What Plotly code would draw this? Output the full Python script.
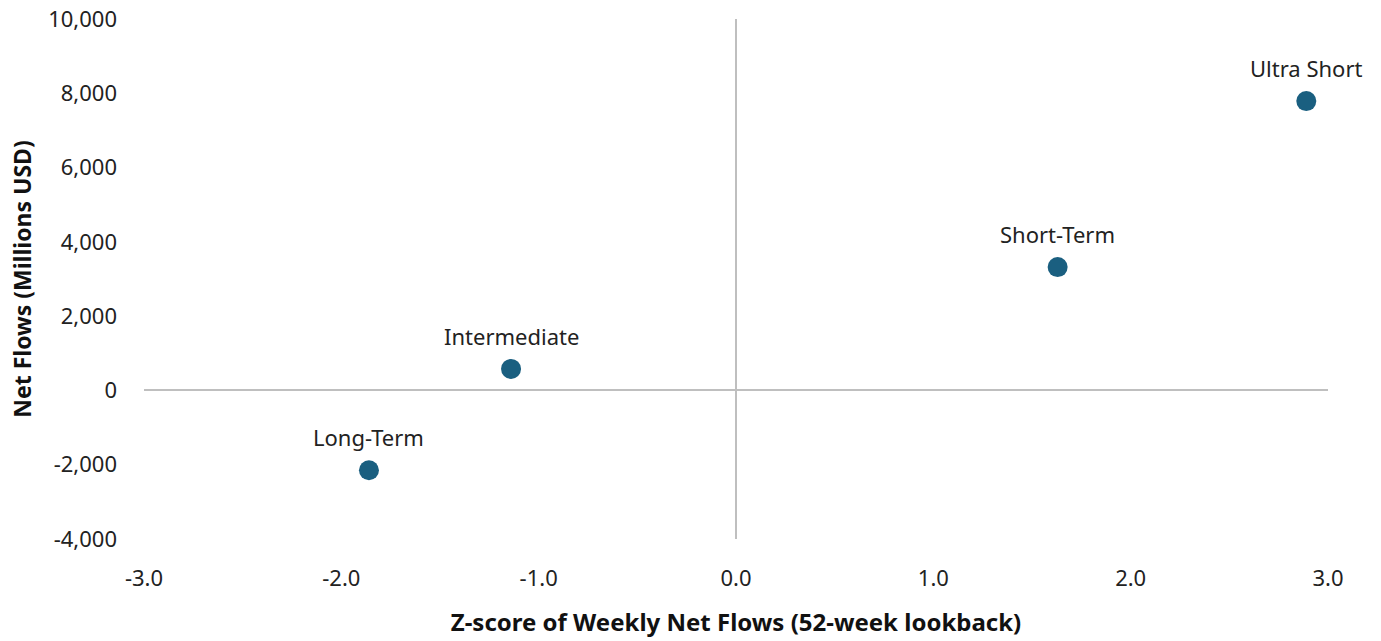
import plotly.graph_objects as go

categories = ["Long-Term", "Intermediate", "Short-Term", "Ultra Short"]
z_scores = [-1.86, -1.14, 1.63, 2.89]
net_flows = [-2150, 580, 3320, 7790]

x_ticks = [-3, -2, -1, 0, 1, 2, 3]
x_tick_labels = ["-3.0", "-2.0", "-1.0", "0.0", "1.0", "2.0", "3.0"]
y_ticks = [-4000, -2000, 0, 2000, 4000, 6000, 8000, 10000]
y_tick_labels = ["-4,000", "-2,000", "0", "2,000", "4,000", "6,000", "8,000", "10,000"]

FONT = "Noto Sans"
fig = go.Figure()
fig.add_trace(go.Scatter(
    x=z_scores, y=net_flows, mode="markers",
    marker=dict(size=20, color="#1a5f80"),
    hoverinfo="skip", showlegend=False,
))
for c, xv, yv in zip(categories, z_scores, net_flows):
    fig.add_annotation(x=xv, y=yv, text=c, showarrow=False, yshift=33,
                       font=dict(family=FONT, size=22, color="#222222"))

fig.update_layout(
    width=1381, height=641,
    margin=dict(l=144, r=53, t=19, b=102),
    paper_bgcolor="white", plot_bgcolor="white",
    font=dict(family=FONT, size=22, color="#222222"),
    xaxis=dict(range=[-3, 3], tickvals=x_ticks, ticktext=x_tick_labels,
               showgrid=False, showline=False, zeroline=True,
               zerolinecolor="#bfbfbf", zerolinewidth=2, automargin=False,
               ticks="", ticklabelstandoff=24, tickfont=dict(size=22),
               title=dict(text="<b>Z-score of Weekly Net Flows (52-week lookback)</b>",
                          font=dict(family=FONT, size=24, color="#111111"), standoff=23)),
    yaxis=dict(range=[-4000, 10000], tickvals=y_ticks, ticktext=y_tick_labels,
               showgrid=False, showline=False, zeroline=True,
               zerolinecolor="#bfbfbf", zerolinewidth=2, automargin=False,
               ticks="", ticklabelstandoff=26, tickfont=dict(size=22),
               title=dict(text="<b>Net Flows (Millions USD)</b>",
                          font=dict(family=FONT, size=23, color="#111111"), standoff=10)),
)
fig.write_html("out.html", config={"displayModeBar": False},
               post_script="document.body.style.margin='0';document.body.style.overflow='hidden';")
